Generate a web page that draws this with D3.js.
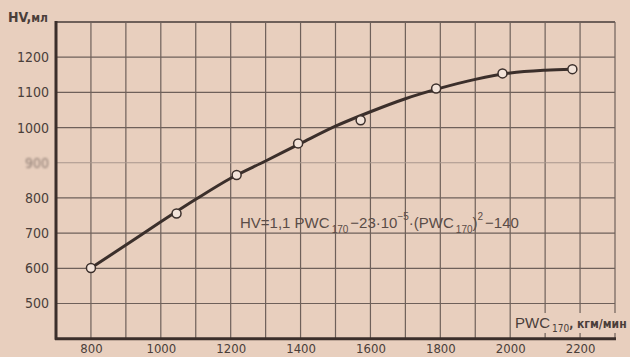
<!DOCTYPE html>
<html>
<head>
<meta charset="utf-8">
<script src="https://cdn.jsdelivr.net/npm/d3@7"></script>
<style>
  html, body { margin: 0; padding: 0; background: #e8cfbe; }
  svg { display: block; }
  .narrow { font-family: "Liberation Sans Narrow", "DejaVu Sans Condensed", "Liberation Sans", sans-serif; }
</style>
</head>
<body>
<svg id="chart" width="630" height="357"></svg>
<script>
// Tidal volume (HV, ml) against physical work capacity PWC170 (kgm/min)
const xTicks = [800, 1000, 1200, 1400, 1600, 1800, 2000, 2200];
const yTicks = [500, 600, 700, 800, 900, 1000, 1100, 1200];
const xGrid = [800, 900, 1000, 1100, 1200, 1300, 1400, 1500, 1600, 1700, 1800, 1900, 2000, 2100, 2200, 2300];
const yGrid = [500, 600, 700, 800, 900, 1000, 1100, 1200, 1300];

// measured points
const pointPWC = [800, 1045, 1217, 1393, 1572, 1788, 1978, 2178];
const pointHV  = [601, 756, 865, 955, 1021, 1111, 1154, 1166];

// fitted curve
const curvePWC = [800, 900, 1000, 1100, 1200, 1300, 1400, 1500, 1600, 1700, 1800, 1900, 2000, 2100, 2178];
const curveHV  = [601, 666, 732, 796, 856, 905, 955, 1004, 1045, 1082, 1112, 1137, 1155, 1163, 1166];

const ink = "#3b2f2b";
const gridInk = "#6e605a";
const textInk = "#4a3e3a";
const paper = "#e8cfbe";

const svg = d3.select("#chart");
const x = d3.scaleLinear().domain([700, 2300]).range([56, 615]);
const y = d3.scaleLinear().domain([400, 1300]).range([338.7, 22]);

// grid
const grid = svg.append("g");
grid.selectAll("line.v").data(xGrid).join("line")
  .attr("x1", d => x(d)).attr("x2", d => x(d))
  .attr("y1", y(1300)).attr("y2", y(400))
  .attr("stroke", gridInk).attr("stroke-width", 1.2);
grid.selectAll("line.h").data(yGrid).join("line")
  .attr("x1", x(700)).attr("x2", x(2300))
  .attr("y1", d => y(d)).attr("y2", d => y(d))
  .attr("stroke", d => d === 900 ? "#a8968c" : gridInk)
  .attr("stroke-width", d => d === 1300 ? 2 : 1.2);

// axis label box on the x side covers the grid
const xLab = svg.append("g").attr("class", "narrow");
xLab.append("rect").attr("x", 513).attr("y", 313).attr("width", 117).attr("height", 20).attr("fill", paper);
const xt = xLab.append("text").attr("x", 515).attr("y", 328).attr("fill", textInk);
xt.append("tspan").attr("font-family", "Liberation Sans, sans-serif").attr("font-size", 15).text("PWC");
xt.append("tspan").attr("font-size", 10).attr("dy", 4).attr("dx", 2).text("170");
xt.append("tspan").attr("font-size", 12).attr("font-weight", "bold").attr("dy", -4).text(", кгм/мин");

// frame: heavy left and bottom axes
svg.append("line").attr("x1", x(700)).attr("x2", x(700)).attr("y1", y(1300) - 1).attr("y2", y(400) + 1)
  .attr("stroke", ink).attr("stroke-width", 3);
svg.append("line").attr("x1", x(700) - 1).attr("x2", x(2300) + 1).attr("y1", y(400)).attr("y2", y(400))
  .attr("stroke", ink).attr("stroke-width", 3);

// y axis tick labels
const yAxis = d3.axisLeft(y).tickValues(yTicks).tickSize(0).tickPadding(7).tickFormat(d3.format("d"));
const gy = svg.append("g").attr("transform", `translate(${x(700)},0)`).call(yAxis);
gy.select(".domain").remove();
gy.selectAll("text").attr("class", "narrow").attr("font-size", 14).attr("fill", textInk)
  .style("filter", d => d === 900 ? "blur(0.8px)" : null)
  .attr("opacity", d => d === 900 ? 0.6 : 1);

// x axis tick labels
const xAxis = d3.axisBottom(x).tickValues(xTicks).tickSize(0).tickPadding(5).tickFormat(d3.format("d"));
const gx = svg.append("g").attr("transform", `translate(0,${y(400)})`).call(xAxis);
gx.select(".domain").remove();
gx.selectAll("text").attr("class", "narrow").attr("font-size", 13).attr("fill", textInk);

// y axis title
const yt = svg.append("text").attr("x", 8).attr("y", 22).attr("fill", textInk)
  .attr("font-family", "Liberation Sans Narrow, DejaVu Sans Condensed, sans-serif").attr("font-weight", "bold");
yt.append("tspan").attr("font-size", 14).text("HV,");
yt.append("tspan").attr("font-size", 12).text("мл");

// formula
const f = svg.append("text").attr("x", 240).attr("y", 228).attr("fill", "#5a4c47")
  .attr("font-family", "Liberation Sans, sans-serif").attr("font-size", 15);
f.append("tspan").text("HV=1,1 PWC");
f.append("tspan").attr("font-size", 10).attr("dy", 5).attr("dx", 2).text("170");
f.append("tspan").attr("dy", -5).attr("dx", 2).text("−23·10");
f.append("tspan").attr("font-size", 10).attr("dy", -8).text("−5");
f.append("tspan").attr("dy", 8).text("·(PWC");
f.append("tspan").attr("font-size", 10).attr("dy", 5).attr("dx", 2).text("170");
f.append("tspan").attr("dy", -5).text(")");
f.append("tspan").attr("font-size", 10).attr("dy", -8).text("2");
f.append("tspan").attr("dy", 8).attr("dx", 2).text("−140");

// fitted curve
const curve = curvePWC.map((p, i) => [p, curveHV[i]]);
svg.append("path").datum(curve)
  .attr("d", d3.line().x(d => x(d[0])).y(d => y(d[1])).curve(d3.curveMonotoneX))
  .attr("fill", "none").attr("stroke", ink).attr("stroke-width", 3).attr("stroke-linecap", "round");

// measured points
const pts = pointPWC.map((p, i) => [p, pointHV[i]]);
svg.selectAll("circle.pt").data(pts).join("circle")
  .attr("cx", d => x(d[0])).attr("cy", d => y(d[1])).attr("r", 4.5)
  .attr("fill", "#f2e3d9").attr("stroke", ink).attr("stroke-width", 1.5);
</script>
</body>
</html>
